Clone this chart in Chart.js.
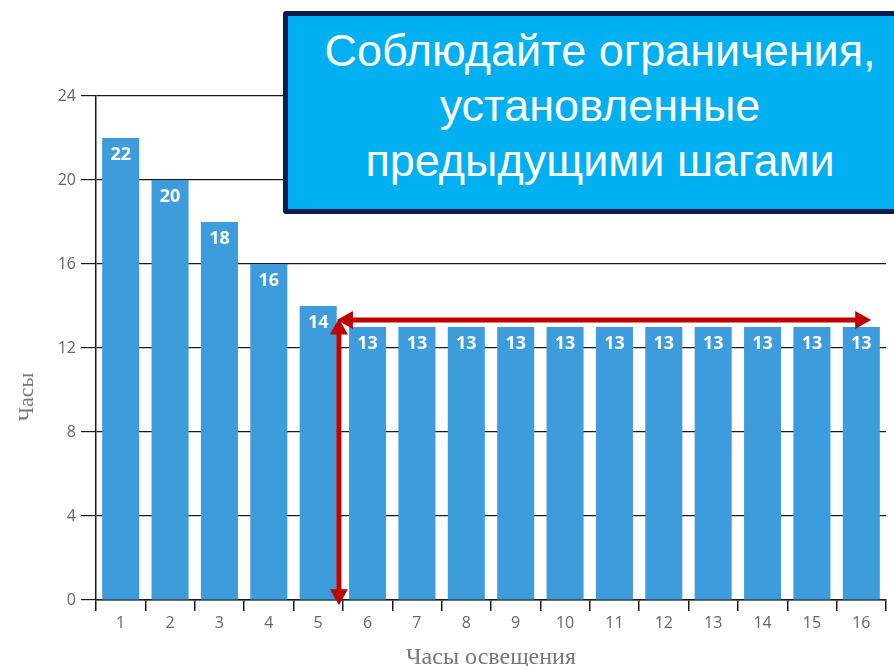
<!DOCTYPE html>
<html>
<head>
<meta charset="utf-8">
<script src="https://cdn.jsdelivr.net/npm/chart.js@4"></script>
<style>
  html, body { margin: 0; padding: 0; background: #fff; overflow: hidden; }
  #wrap { position: relative; width: 894px; height: 666px; }
  #callout {
    position: absolute; left: 283px; top: 11px; width: 624px; height: 186px;
    background: #00b0f0; border: 5px solid #0b1d4d; border-radius: 3px;
    color: #fff; font-family: "Liberation Sans", Arial, sans-serif; font-size: 45px;
    line-height: 55px; text-align: center; padding-top: 7px; box-sizing: content-box;
  }
</style>
</head>
<body>
<div id="wrap">
  <canvas id="graph-horas" width="894" height="666"></canvas>
  <div id="callout">Соблюдайте ограничения,<br>установленные<br>предыдущими шагами</div>
</div>
<script>
const categorias = ['1', '2', '3', '4', '5', '6', '7', '8', '9', '10', '11', '12', '13', '14', '15', '16'];
const horas = [22, 20, 18, 16, 14, 13, 13, 13, 13, 13, 13, 13, 13, 13, 13, 13];
const ticksY = [0, 4, 8, 12, 16, 20, 24];

// flechas rojas, en unidades de los ejes (indice de categoria, valor)
const flechaX = 4.42;
const flechaAbajo = -0.25;
const flechaArriba = 13.4;
const flechaY = 13.33;
const flechaFin = 15.2;

const etiquetas = {
  id: 'etiquetas',
  afterDatasetsDraw(chart) {
    const ctx = chart.ctx;
    const meta = chart.getDatasetMeta(0);
    ctx.save();
    ctx.fillStyle = '#ffffff';
    ctx.font = 'bold 18px "Open Sans", sans-serif';
    ctx.textAlign = 'center';
    ctx.textBaseline = 'middle';
    meta.data.forEach((bar, i) => {
      ctx.fillText(horas[i], bar.x, bar.y + 17);
    });
    ctx.restore();
  }
};

// titulo del eje y, algo por debajo del centro como en el original
const tituloY = {
  id: 'tituloY',
  afterDraw(chart) {
    const ctx = chart.ctx;
    const area = chart.chartArea;
    ctx.save();
    ctx.translate(27, (area.top + area.bottom) / 2 + 49);
    ctx.rotate(-Math.PI / 2);
    ctx.fillStyle = '#777';
    ctx.font = '22px "Liberation Serif", serif';
    ctx.textAlign = 'center';
    ctx.textBaseline = 'middle';
    ctx.fillText('Часы', 0, 0);
    ctx.restore();
  }
};

const flechas = {
  id: 'flechas',
  afterDraw(chart) {
    const ctx = chart.ctx;
    const x = chart.scales.x;
    const y = chart.scales.y;
    const px = x.getPixelForValue(flechaX);
    const pBot = y.getPixelForValue(flechaAbajo);
    const pTop = y.getPixelForValue(flechaArriba);
    const py = y.getPixelForValue(flechaY);
    const pEnd = x.getPixelForValue(flechaFin);
    const punta = (tx, ty, dx, dy) => {
      ctx.beginPath();
      ctx.moveTo(tx, ty);
      ctx.lineTo(tx - dx * 16 - dy * 9, ty - dy * 16 - dx * 9);
      ctx.lineTo(tx - dx * 16 + dy * 9, ty - dy * 16 + dx * 9);
      ctx.closePath();
      ctx.fill();
    };
    ctx.save();
    ctx.strokeStyle = '#c00000';
    ctx.fillStyle = '#c00000';
    ctx.lineWidth = 5;
    ctx.beginPath();
    ctx.moveTo(px, pBot - 12);
    ctx.lineTo(px, pTop + 12);
    ctx.moveTo(px + 12, py);
    ctx.lineTo(pEnd - 12, py);
    ctx.stroke();
    punta(px, pBot, 0, 1);
    punta(px, pTop, 0, -1);
    punta(px - 2, py, -1, 0);
    punta(pEnd, py, 1, 0);
    ctx.restore();
  }
};

const dataHoras = {
  labels: categorias,
  datasets: [
    {
      data: horas,
      backgroundColor: '#3c9cdc',
      borderWidth: 0,
      barPercentage: 0.75,
      categoryPercentage: 1
    }
  ]
};

const configHoras = {
  type: 'bar',
  data: dataHoras,
  options: {
    responsive: false,
    animation: false,
    layout: { padding: { top: 96, right: 8, left: 0, bottom: 0 } },
    plugins: {
      legend: { display: false },
      tooltip: { enabled: false }
    },
    scales: {
      x: {
        afterFit: (s) => { s.height = 66; },
        grid: { offset: true, drawOnChartArea: false, drawTicks: true, tickLength: 11, color: '#1a1a1a', lineWidth: 1.5 },
        border: { color: '#1a1a1a', width: 1.5 },
        ticks: { color: '#666', font: { size: 16, family: '"Open Sans", sans-serif' }, padding: 3 },
        title: {
          display: true, text: 'Часы освещения', color: '#777',
          font: { size: 24, lineHeight: 0.65, family: '"Liberation Serif", serif' }, padding: 0
        }
      },
      y: {
        min: 0, max: 24,
        afterFit: (s) => { s.width = 96; },
        afterBuildTicks: (s) => { s.ticks = ticksY.map(v => ({ value: v })); },
        grid: { color: '#1a1a1a', lineWidth: 1.2, tickLength: 15 },
        border: { color: '#1a1a1a', width: 1.5 },
        ticks: { color: '#666', font: { size: 16, family: '"Open Sans", sans-serif' }, padding: 5 },
        title: { display: false }
      }
    }
  },
  plugins: [etiquetas, flechas, tituloY]
};

const chartHoras = new Chart(document.querySelector('#graph-horas'), configHoras);
</script>
</body>
</html>
